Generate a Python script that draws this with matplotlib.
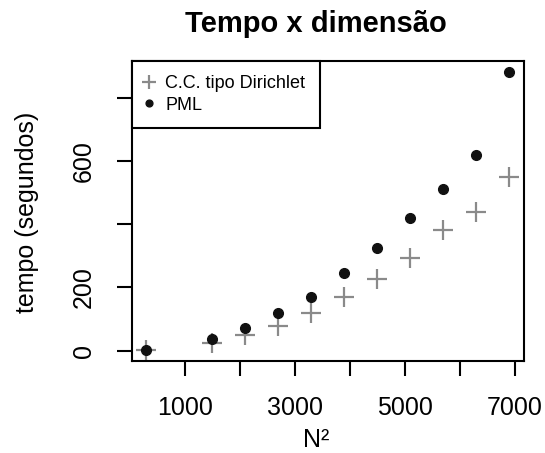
import numpy as np
import matplotlib
matplotlib.use("Agg")
import matplotlib.pyplot as plt

plt.rcParams['font.family'] = ['Liberation Sans', 'DejaVu Sans']

# valores
n2 = [300, 1500, 2100, 2700, 3300, 3900, 4500, 5100, 5700, 6300, 6900]
t_dirichlet = [2, 25, 48, 79, 119, 169, 227, 292, 382, 438, 549]
t_pml = [2, 37, 71, 120, 169, 246, 324, 420, 513, 620, 883]

x_ticks = [1000, 2000, 3000, 4000, 5000, 6000, 7000]
x_labels = ['1000', '', '3000', '', '5000', '', '7000']
y_ticks = [0, 200, 400, 600, 800]
y_labels = ['0', '200', '', '600', '']

fig = plt.figure(figsize=(5.45, 4.53), dpi=100)
ax = fig.add_axes([0.2417, 0.203, 0.7198, 0.663])

ax.plot(n2, t_dirichlet, linestyle='none', marker='+', markersize=14,
        markeredgewidth=1.6, color='#8a8a8a', label='C.C. tipo Dirichlet')
ax.plot(n2, t_pml, linestyle='none', marker='o', markersize=7,
        color='#111111', label='PML')

# margem de 4% como no R
xr = max(n2) - min(n2)
ax.set_xlim(min(n2) - 0.04 * xr, max(n2) + 0.04 * xr)
ymin = min(min(t_dirichlet), min(t_pml))
ymax = max(max(t_dirichlet), max(t_pml))
yr = ymax - ymin
ax.set_ylim(ymin - 0.04 * yr, ymax + 0.04 * yr)

ax.set_xticks(x_ticks)
ax.set_xticklabels(x_labels)
ax.set_yticks(y_ticks)
ax.set_yticklabels(y_labels, rotation=90, va='center')
ax.tick_params(axis='both', length=11, width=1.5, labelsize=18, pad=14)
ax.tick_params(axis='y', pad=15)

for s in ax.spines.values():
    s.set_linewidth(1.5)

# rotulos e titulo posicionados como no original
fig.text(316 / 545, 1 - 440 / 453, 'N²', fontsize=18, ha='center', va='center')
fig.text(27 / 545, 1 - 212 / 453, 'tempo (segundos)', fontsize=18,
         rotation=90, ha='center', va='center')
fig.text(316 / 545, 1 - 24 / 453, 'Tempo x dimensão', fontsize=21,
         fontweight='bold', ha='center', va='center')

leg = ax.legend(loc='upper left', borderaxespad=0, fancybox=False,
                edgecolor='black', fontsize=13, handletextpad=0.75,
                handlelength=0.3, borderpad=0.8, labelspacing=0.25,
                markerscale=0.7, framealpha=1)
leg.get_frame().set_linewidth(1.5)

fig.savefig('out.png', dpi=100)
